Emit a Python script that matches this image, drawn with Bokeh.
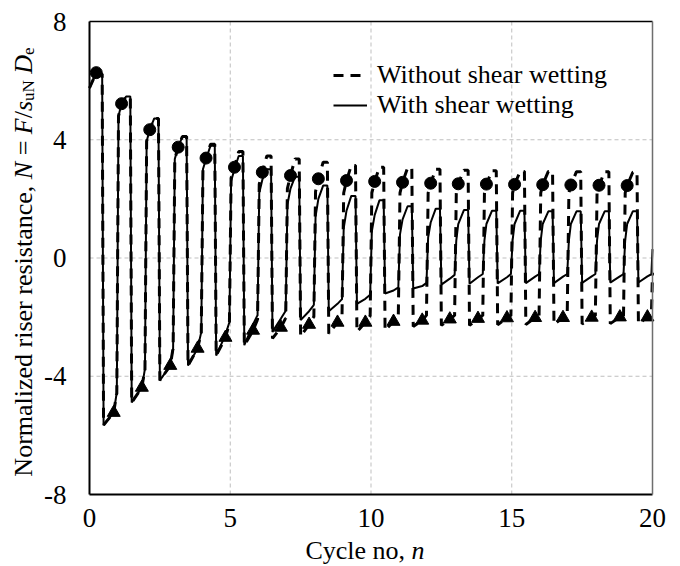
from bokeh.plotting import figure
from bokeh.models import Range1d, FixedTicker, Label, Legend, LegendItem, LinearAxis
from bokeh.embed import file_html
from bokeh.resources import INLINE

# ---------------- data ----------------
x_ticks = [0, 5, 10, 15, 20]
y_ticks = [-8, -4, 0, 4, 8]
x_tick_labels = {0: "0", 5: "5", 10: "10", 15: "15", 20: "20"}
y_tick_labels = {-8: "-8", -4: "-4", 0: "0", 4: "4", 8: "8"}
x_grid = [5, 10, 15]
y_grid = [-4, 0, 4]

# peak markers (circles) and trough markers (triangles)
circle_x = [0.24, 1.14, 2.14, 3.15, 4.14, 5.15, 6.14, 7.14, 8.13, 9.13,
            10.13, 11.12, 12.12, 13.10, 14.10, 15.10, 16.10, 17.10, 18.10, 19.10]
circle_y = [6.27, 5.22, 4.34, 3.75, 3.38, 3.07, 2.90, 2.79, 2.68, 2.62,
            2.59, 2.56, 2.53, 2.51, 2.50, 2.49, 2.48, 2.47, 2.46, 2.45]
tri_x = [0.86, 1.86, 2.87, 3.84, 4.83, 5.81, 6.80, 7.80, 8.81, 9.80,
         10.80, 11.82, 12.80, 13.80, 14.83, 15.83, 16.82, 17.84, 18.84, 19.82]
tri_y = [-5.23, -4.38, -3.64, -3.06, -2.69, -2.45, -2.35, -2.25, -2.18, -2.18,
         -2.15, -2.11, -2.07, -2.05, -2.03, -2.02, -2.02, -2.01, -2.00, -2.00]

# without shear wetting (dashed): per-cycle values
d_start = 5.75
d_rise_top = [5.75, 4.80, 3.95, 3.35, 3.00, 2.70, 2.50, 2.35, 2.25, 2.20,
              2.20, 2.20, 2.20, 2.20, 2.20, 2.20, 2.20, 2.20, 2.20, 2.20]
d_peak = [6.22, 5.45, 4.72, 4.11, 3.85, 3.60, 3.45, 3.35, 3.24, 3.13,
          3.07, 3.05, 3.00, 2.97, 2.95, 2.93, 2.93, 2.92, 2.92, 2.90]
d_trough = [-5.65, -4.89, -4.14, -3.64, -3.30, -2.96, -2.72, -2.65, -2.56, -2.50,
            -2.45, -2.32, -2.28, -2.28, -2.26, -2.25, -2.24, -2.23, -2.22, -2.22]
d_trough_end = [-4.60, -3.80, -3.10, -2.55, -2.25, -2.10, -2.05, -2.00, -1.98, -1.97,
                -1.96, -1.95, -1.95, -1.95, -1.95, -1.95, -1.95, -1.95, -1.95, -1.95]
d_end = -0.5

# with shear wetting (solid): per-cycle values
s_start = 5.75
s_rise_top = [5.75, 4.80, 3.95, 3.35, 3.00, 2.60, 2.20, 1.80, 1.40, 1.00,
              0.90, 0.80, 0.70, 0.60, 0.60, 0.60, 0.60, 0.60, 0.60, 0.60]
s_mid = [6.27, 5.22, 4.34, 3.75, 3.35, 3.00, 2.65, 2.35, 2.00, 1.60,
         1.45, 1.30, 1.20, 1.15, 1.15, 1.15, 1.15, 1.15, 1.15, 1.15]
s_peak = [6.22, 5.46, 4.72, 4.11, 3.80, 3.45, 3.00, 2.75, 2.45, 2.10,
          1.95, 1.75, 1.67, 1.62, 1.60, 1.60, 1.58, 1.58, 1.58, 1.58]
s_trough = [-5.65, -4.89, -4.14, -3.64, -3.30, -2.95, -2.50, -2.10, -1.80, -1.55,
            -1.20, -1.03, -0.90, -0.87, -0.86, -0.85, -0.85, -0.84, -0.83, -0.83]
s_tri = [-5.23, -4.38, -3.64, -3.06, -2.60, -2.25, -2.05, -1.80, -1.55, -1.38,
         -1.10, -0.95, -0.70, -0.65, -0.65, -0.63, -0.63, -0.62, -0.62, -0.62]
s_trough_end = [-4.60, -3.80, -3.10, -2.55, -2.20, -1.95, -1.80, -1.60, -1.40, -1.25,
                -1.00, -0.85, -0.58, -0.55, -0.55, -0.55, -0.55, -0.55, -0.55, -0.55]
s_end = 0.3


def build_curve(start, rise_top, mid_y, peak, trough, trough_mid, trough_end, end):
    xs, ys = [0.0], [start]
    for k in range(len(peak)):
        if k > 0:
            xs += [k - 0.03, k + 0.03]
            ys += [trough_end[k - 1], rise_top[k]]
        xs += [circle_x[k], k + 0.30, k + 0.45, k + 0.50, tri_x[k], k + 0.96]
        ys += [mid_y[k], peak[k], peak[k], trough[k], trough_mid[k], trough_end[k]]
    xs.append(20.0)
    ys.append(end)
    return xs, ys


dx, dy = build_curve(d_start, d_rise_top, circle_y, d_peak, d_trough, tri_y, d_trough_end, d_end)
sx, sy = build_curve(s_start, s_rise_top, s_mid, s_peak, s_trough, s_tri, s_trough_end, s_end)

# ---------------- figure ----------------
FONT = "Liberation Serif"
W, H = 680, 566
L, R, T, B = 89, 652, 21, 494  # plot-box edges in canvas pixels
px_x = (R - L) / 20.0
px_y = (B - T) / 16.0

# the frame covers the whole canvas; the axes are drawn at fixed data locations
p = figure(width=W, height=H, output_backend="svg", toolbar_location=None, title=None,
           x_range=Range1d(-L / px_x, 20 + (W - R) / px_x),
           y_range=Range1d(-8 - (H - B) / px_y, 8 + T / px_y),
           x_axis_location=None, y_axis_location=None,
           min_border=0, min_border_left=0, min_border_right=0,
           min_border_top=0, min_border_bottom=0)
p.background_fill_color = "white"
p.border_fill_color = "white"
p.outline_line_color = None
p.grid.visible = False


def style_axis(ax, size="27px"):
    ax.major_tick_in = 0
    ax.major_tick_out = 0
    ax.minor_tick_in = 0
    ax.minor_tick_out = 0
    ax.axis_line_width = 2
    ax.axis_line_color = "black"
    ax.major_label_text_font = FONT
    ax.major_label_text_font_size = size
    ax.major_label_text_color = "black"


xa = LinearAxis(fixed_location=-8, bounds=(0, 20), ticker=FixedTicker(ticks=x_ticks),
                major_label_overrides=x_tick_labels)
style_axis(xa)
xa.major_label_standoff = 14
p.add_layout(xa, "below")

ya = LinearAxis(fixed_location=0, bounds=(-8, 8), ticker=FixedTicker(ticks=y_ticks),
                major_label_overrides=y_tick_labels)
style_axis(ya)
ya.major_label_standoff = 23
p.add_layout(ya, "left")

ta = LinearAxis(fixed_location=8, bounds=(0, 20), ticker=FixedTicker(ticks=[]))
style_axis(ta)
ta.axis_line_width = 1.5
ta.major_label_text_alpha = 0
p.add_layout(ta, "above")

ra = LinearAxis(fixed_location=20, bounds=(-8, 8), ticker=FixedTicker(ticks=[]))
style_axis(ra)
ra.axis_line_width = 1.5
ra.axis_line_color = "#6e6e6e"
ra.major_label_text_alpha = 0
p.add_layout(ra, "right")

# dashed grid lines inside the plot box
grid_kw = dict(line_color="#bfbfbf", line_dash="4 3", line_width=1, level="underlay")
p.segment(x0=x_grid, y0=[-8] * len(x_grid), x1=x_grid, y1=[8] * len(x_grid), **grid_kw)
p.segment(x0=[0] * len(y_grid), y0=y_grid, x1=[20] * len(y_grid), y1=y_grid, **grid_kw)

r_dash = p.line(dx, dy, line_color="black", line_width=3, line_dash="10 7")
r_solid = p.line(sx, sy, line_color="black", line_width=2)
p.scatter(circle_x, circle_y, marker="circle", size=12, color="black")
p.scatter(tri_x, tri_y, marker="triangle", size=13, color="black")

legend = Legend(items=[LegendItem(label="Without shear wetting", renderers=[r_dash]),
                       LegendItem(label="With shear wetting", renderers=[r_solid])],
                location=(333, H - 120))
legend.label_text_font = FONT
legend.label_text_font_size = "26px"
legend.label_text_color = "black"
legend.glyph_width = 34
legend.glyph_height = 30
legend.label_height = 30
legend.label_standoff = 10
legend.spacing = 0
legend.padding = 0
legend.margin = 0
legend.border_line_alpha = 0
legend.background_fill_alpha = 0
p.add_layout(legend)


# ---------------- axis titles (mixed italic / subscripts) ----------------
def dxp(cx):
    return (cx - L) / px_x


def dyp(cy):
    return 8 - (cy - T) / px_y


def add_text(txt, cx, cy, size, style="normal", angle=0.0):
    p.add_layout(Label(x=dxp(cx), y=dyp(cy), text=txt, angle=angle,
                       text_font=FONT, text_font_size=f"{size}px",
                       text_font_style=style, text_color="black",
                       text_align="left", text_baseline="alphabetic"))


F, S = 26, 17
# (text, style, font size, advance in 1/1000 em, baseline shift px)
pieces = [("Normalized riser resistance,", "normal", F, 11441, 0),
          ("N", "italic", F, 667 + 250, 0),
          ("=", "normal", F, 564 + 250, 0),
          ("F", "italic", F, 611, 0),
          ("/", "normal", F, 278, 0),
          ("s", "italic", F, 389, 0),
          ("uN", "normal", S, 1222 + 250 * F / S, 5),
          ("D", "italic", F, 722, 0),
          ("e", "normal", S, 444, 5)]
total = sum(w * sz / 1000 for _, _, sz, w, _ in pieces)
cy = (T + B) / 2 + total / 2 + 4
base_x = 23
for txt, style, sz, w, shift in pieces:
    add_text(txt, base_x + shift, cy, sz, style, angle=1.5707963)
    cy -= w * sz / 1000

xt_w = (4083 + 500) * F / 1000
cx0 = (L + R) / 2 - xt_w / 2 - 6
add_text("Cycle no,", cx0, 550, F)
add_text("n", cx0 + 4083 * F / 1000, 550, F, "italic")

open("out.html", "w").write(file_html(p, INLINE))
